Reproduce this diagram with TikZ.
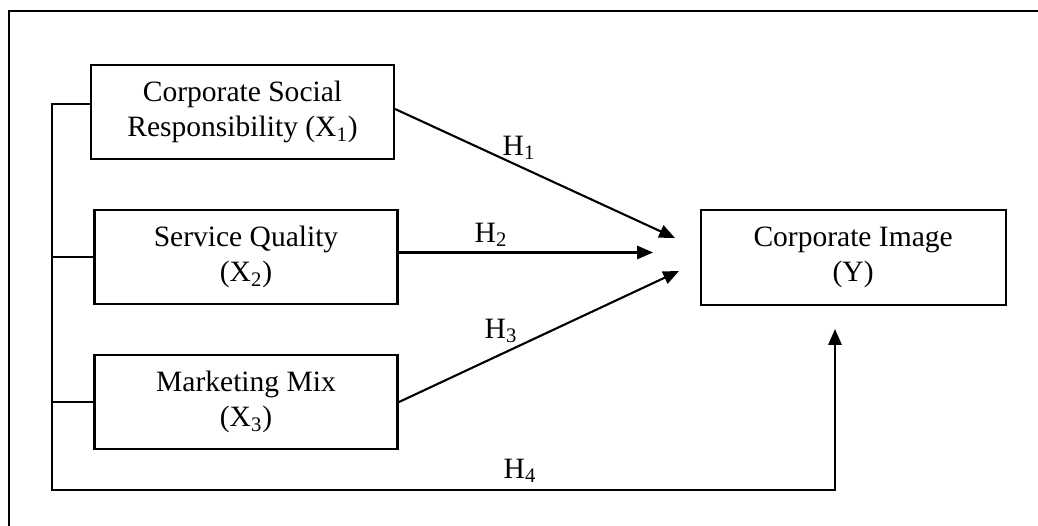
\documentclass[tikz,border=0pt]{standalone}
\usepackage{fontspec}
\setmainfont{Liberation Serif}
\usetikzlibrary{positioning,arrows.meta}

\begin{document}
\begin{tikzpicture}

	\tikzstyle{every node}=[font=\fontsize{16.8}{20}\selectfont]
	\tikzstyle{varbox}=[rectangle,draw=black,line width=1.2pt,minimum width=6.06cm,minimum height=1.88cm,align=center]
	\tikzstyle{link}=[line width=1.2pt,-{Triangle[length=9pt,width=7.5pt]}]

	\useasboundingbox (0,0) rectangle (20.76,-10.52);
	% frame: only its top and left edges are in the picture
	\draw[line width=1.2pt] (20.76,-0.22) -- (0.18,-0.22) -- (0.18,-10.52);

	\node[varbox] (csr) at (4.85,-2.24) {Corporate Social\\Responsibility (X\textsubscript{1})};
	\node[varbox, below= 0.98cm of csr, xshift=0.07cm] (servicequality) {Service Quality\\(X\textsubscript{2})};
	\node[varbox, below= 0.98cm of servicequality] (marketingmix) {Marketing Mix\\(X\textsubscript{3})};
	\node[varbox, right= 6.02cm of servicequality, minimum width=6.1cm, minimum height=1.9cm] (corporateimage) {Corporate Image\\(Y)};

	\coordinate (h1end) at (13.50,-4.76);
	\coordinate (h2end) at (13.06,-5.05);
	\coordinate (h3end) at (13.58,-5.42);
	\coordinate (h4end) at (16.70,-6.58);
	\coordinate (bustop) at (1.04,-2.08);
	\coordinate (busbottom) at (1.04,-9.80);

	\draw[link] ([yshift=0.06cm]csr.east) -- (h1end);
	\draw[link] (servicequality.east |- h2end) -- (h2end);
	\draw[link] (marketingmix.east) -- (h3end);

	\draw[link] (csr.west |- bustop) -- (bustop) -- (busbottom) -| (h4end);
	\draw[line width=1.2pt] (servicequality.west) -- (servicequality.west -| bustop);
	\draw[line width=1.2pt] (marketingmix.west) -- (marketingmix.west -| bustop);

	\node (h1label) at (10.38,-2.96) {H\textsubscript{1}};
	\node (h2label) at (9.82,-4.70) {H\textsubscript{2}};
	\node (h3label) at (10.02,-6.62) {H\textsubscript{3}};
	\node (h4label) at (10.40,-9.42) {H\textsubscript{4}};

\end{tikzpicture}
\end{document}
